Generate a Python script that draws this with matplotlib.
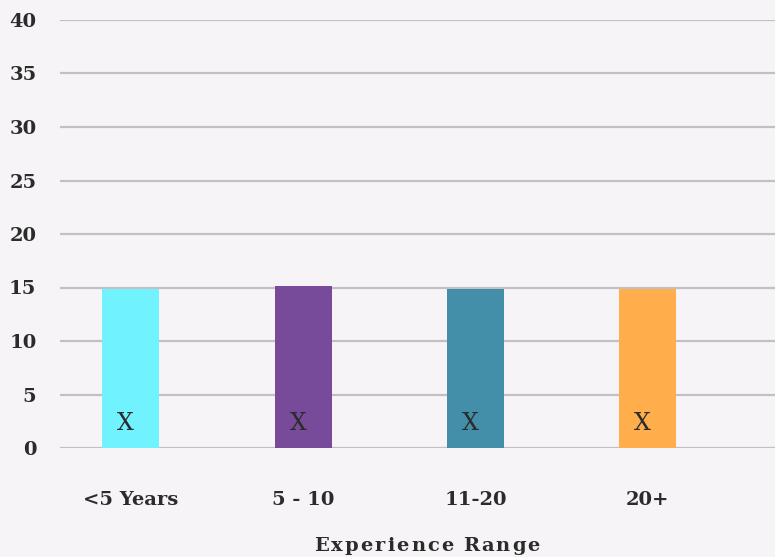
import matplotlib
matplotlib.use("Agg")
import matplotlib.pyplot as plt

categories = ["<5 Years", "5 - 10", "11-20", "20+"]
values = [14.9, 15.1, 14.9, 14.9]
bar_labels = ["X", "X", "X", "X"]
colors = ["#70f3ff", "#784a9a", "#438faa", "#ffae4b"]
y_ticks = [0, 5, 10, 15, 20, 25, 30, 35, 40]
x_title = "Experience Range"

BG = "#f6f4f6"
TEXT = "#2b2b2b"
plt.rcParams["font.family"] = ["DejaVu Serif"]
plt.rcParams["font.weight"] = "bold"

FS = 14

fig = plt.figure(figsize=(7.75, 5.57), dpi=100, facecolor=BG)
ax = fig.add_axes([60 / 775, 109 / 557, 715 / 775, 428 / 557], facecolor=BG)

xs = list(range(len(categories)))
ax.bar(xs, values, width=0.33, color=colors, zorder=3)
for x, lab in zip(xs, bar_labels):
    ax.text(x - 0.03, 2.3, lab, ha="center", va="center", fontsize=17,
            fontweight="normal", color=TEXT, zorder=4)

ax.set_xlim(-0.41, 3.737)
ax.set_ylim(0, 40)
ax.set_yticks(y_ticks)
ax.yaxis.grid(True, color="#c2c0c2", linewidth=1.6, zorder=0)
ax.set_axisbelow(True)
for s in ax.spines.values():
    s.set_visible(False)
ax.tick_params(axis="y", length=0, pad=17, labelsize=FS, labelcolor=TEXT)
ax.tick_params(axis="x", length=0, pad=31, labelsize=FS, labelcolor=TEXT)
ax.set_xticks(xs)
ax.set_xticklabels(categories)
for t in ax.get_yticklabels():
    t.set_clip_on(False)

# axis title drawn letter by letter to get wide tracking
fig.canvas.draw()
renderer = fig.canvas.get_renderer()
spacing = 2.1
chars = []
widths = []
for ch in x_title:
    t = fig.text(0, 0, ch, fontsize=FS, fontweight="bold", color=TEXT,
                 ha="left", va="baseline")
    bb = t.get_window_extent(renderer)
    w = bb.width if ch != " " else 5.0
    chars.append(t)
    widths.append(w)
total = sum(widths) + spacing * (len(chars) - 1)
cx = 427
xpix = cx - total / 2
ybase = 557 - 551
for t, w in zip(chars, widths):
    t.set_position((xpix / 775, ybase / 557))
    xpix += w + spacing

fig.savefig("out.png", dpi=100, facecolor=BG)
